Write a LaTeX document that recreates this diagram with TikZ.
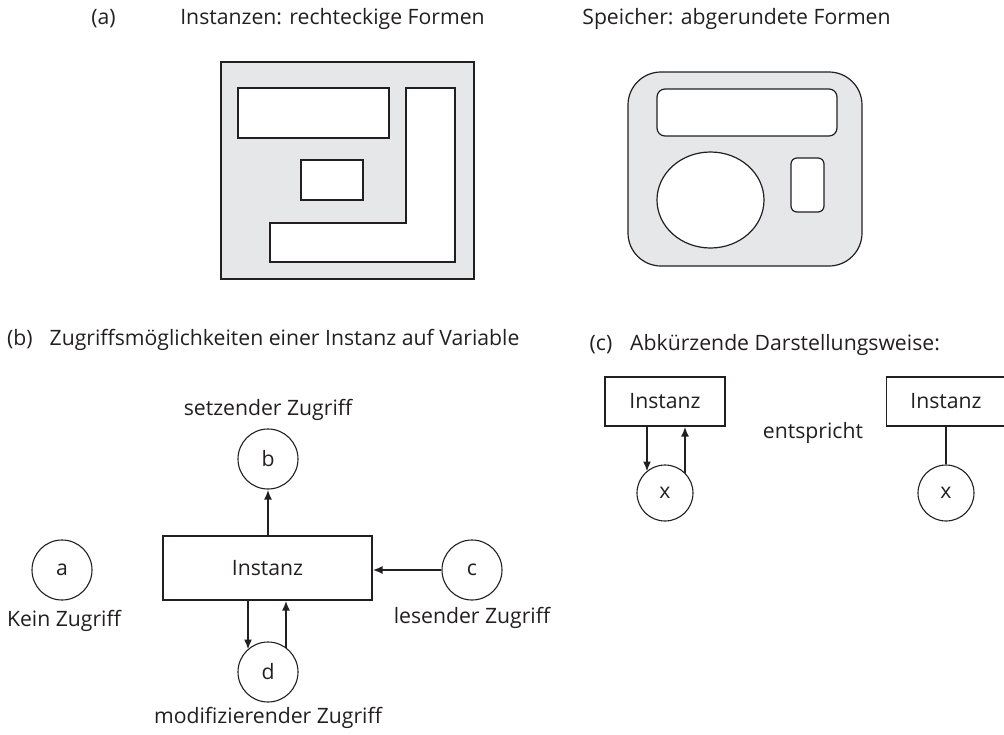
\documentclass[tikz,border=0pt]{standalone}
\usepackage{fontspec}
\setmainfont{Open Sans}
\usetikzlibrary{arrows.meta}
\definecolor{fillgray}{HTML}{E6E7E8}
\definecolor{ink}{HTML}{231F20}
\begin{document}
\begin{tikzpicture}[x=1pt,y=-1pt,
  txt/.style={font=\fontsize{21.2}{25}\selectfont, text=ink, inner sep=0pt},
  shapeline/.style={draw=ink, line width=1.2pt},
  var/.style={circle, draw=ink, line width=1.1pt, minimum size=60pt, inner sep=0pt, font=\fontsize{21.2}{25}\selectfont, text=ink},
  varsmall/.style={var, minimum size=56pt},
  inst/.style={rectangle, draw=ink, line width=1.1pt, inner sep=0pt, font=\fontsize{21.2}{25}\selectfont, text=ink},
  acc/.style={draw=ink, line width=2pt, -{Latex[length=10pt,width=8pt]}},
  link/.style={draw=ink, line width=1.1pt}]
\useasboundingbox (0,0) rectangle (1004,734);
% titles
\node[txt] (ta) at (103.5,19) {(a)};
\node[txt] (tinst) at (332.5,19) {Instanzen: rechteckige Formen};
\node[txt] (tspe) at (736.5,19) {Speicher: abgerundete Formen};
\node[txt, anchor=west] (tb) at (7,340) {(b)\hspace{17pt}Zugriffsmöglichkeiten einer Instanz auf Variable};
\node[txt] (tc) at (601,345) {(c)};
\node[txt, anchor=west] (tcc) at (630,345) {Abkürzende Darstellungsweise:};
% (a) rectangular shapes
\path[shapeline, fill=fillgray] (221,62) rectangle (474,279);
\path[shapeline, fill=white] (238,88) rectangle (389,138);
\path[shapeline, fill=white] (301,160) rectangle (363,200);
\path[shapeline, fill=white] (406,88) -- (455,88) -- (455,262) -- (270,262) -- (270,223) -- (406,223) -- cycle;
% rounded shapes
\path[shapeline, fill=fillgray, rounded corners=33pt] (628,72) rectangle (862,266);
\path[shapeline, fill=white, rounded corners=8pt] (657,89) rectangle (837,136);
\path[shapeline, fill=white] (710.5,200) ellipse [x radius=53.5, y radius=48];
\path[shapeline, fill=white, rounded corners=6pt] (791,158) rectangle (824,212);
% (b)
\node[inst, minimum width=209pt, minimum height=64pt] (I) at (267.5,568) {Instanz};
\node[var] (b) at (268,459) {b};
\node[var] (c) at (472,570) {c};
\node[var] (d) at (268,672) {d};
\node[var] (a) at (62,570) {a};
\node[txt] (la) at (64,621) {Kein Zugriff};
\node[txt] (lb) at (268,410) {setzender Zugriff};
\node[txt] (lc) at (472,618) {lesender Zugriff};
\node[txt] (ld) at (268,718) {modifizierender Zugriff};
\coordinate (dIn) at (248,649.6);
\coordinate (dOut) at (286,648);
\draw[acc] (I.north -| b) -- (b.south);
\draw[acc] (c.west) -- (I.east |- c);
\draw[acc] (I.south -| dIn) -- (dIn);
\draw[acc] (dOut) -- (I.south -| dOut);
% (c)
\node[inst, minimum width=120pt, minimum height=49pt] (I2) at (665,401.5) {Instanz};
\node[varsmall] (x1) at (665,493) {x};
\node[txt] (ent) at (813,433) {entspricht};
\node[inst, minimum width=119pt, minimum height=49pt] (I3) at (946,401.5) {Instanz};
\node[varsmall] (x2) at (946,493) {x};
\draw[link] (I3.south) -- (x2.north);
\coordinate (xIn) at (647,471.6);
\coordinate (xOut) at (685,473.4);
\draw[acc] (I2.south -| xIn) -- (xIn);
\draw[acc] (xOut) -- (I2.south -| xOut);
\end{tikzpicture}
\end{document}
